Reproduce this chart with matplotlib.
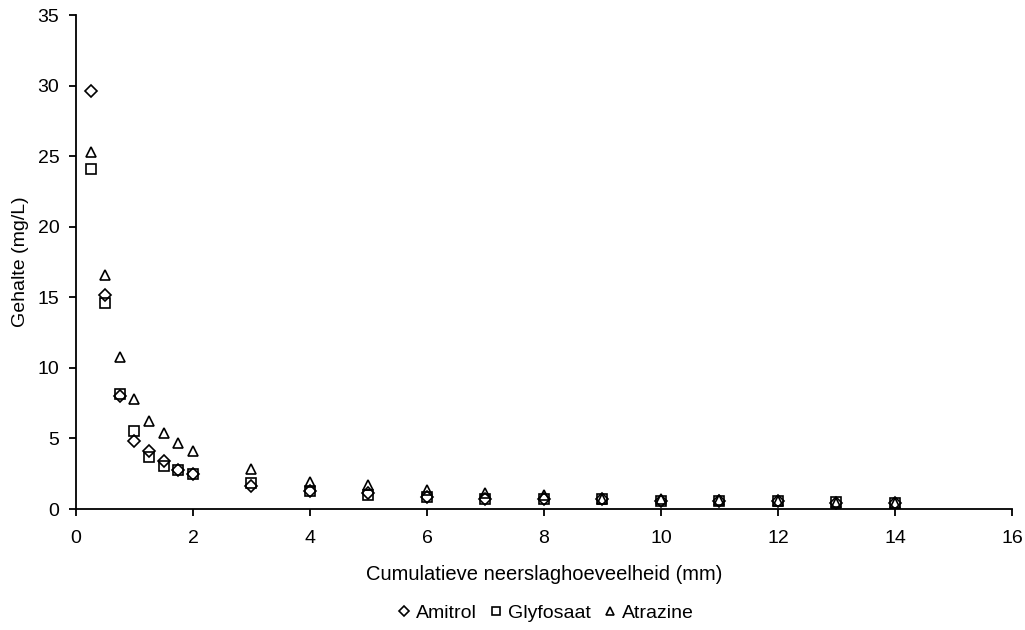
import matplotlib
matplotlib.use("Agg")
import matplotlib.pyplot as plt

plt.rcParams['font.family'] = ['Liberation Sans', 'DejaVu Sans']

# cumulative rainfall (mm)
neerslag = [0.25, 0.5, 0.75, 1.0, 1.25, 1.5, 1.75, 2, 3, 4, 5, 6, 7, 8, 9, 10, 11, 12, 13, 14]

# concentration (mg/L)
amitrol = [29.6, 15.2, 8.0, 4.85, 4.08, 3.37, 2.75, 2.45, 1.64, 1.28, 1.15, 0.86, 0.7, 0.7, 0.68, 0.6, 0.6, 0.55, 0.4, 0.4]
glyfosaat = [24.1, 14.6, 8.17, 5.5, 3.68, 3.05, 2.8, 2.45, 1.85, 1.3, 0.96, 0.86, 0.72, 0.7, 0.68, 0.6, 0.6, 0.6, 0.5, 0.4]
atrazine = [25.3, 16.6, 10.75, 7.8, 6.25, 5.37, 4.66, 4.1, 2.86, 1.9, 1.67, 1.38, 1.13, 0.96, 0.72, 0.68, 0.62, 0.6, 0.42, 0.45]

fig = plt.figure(figsize=(10.25, 6.3), dpi=100)
ax = fig.add_axes([0.0741, 0.192, 0.9132, 0.784])

kw = dict(linestyle='none', markerfacecolor='none', markeredgecolor='black', markeredgewidth=1.2)
ax.plot(neerslag, amitrol, marker='D', markersize=6.3, label='Amitrol', **kw)
ax.plot(neerslag, glyfosaat, marker='s', markersize=6.5, label='Glyfosaat', **kw)
ax.plot(neerslag, atrazine, marker='^', markersize=7.5, label='Atrazine', **kw)

ax.set_xlim(0, 16)
ax.set_ylim(0, 35)
ax.set_xticks(range(0, 17, 2))
ax.set_yticks(range(0, 36, 5))
ax.spines['top'].set_visible(False)
ax.spines['right'].set_visible(False)
ax.spines['left'].set_linewidth(1.3)
ax.spines['bottom'].set_linewidth(1.3)
ax.tick_params(direction='out', length=5, width=1.3, labelsize=14)
ax.tick_params(axis='x', pad=10)
ax.tick_params(axis='y', pad=7)

ax.set_xlabel('Cumulatieve neerslaghoeveelheid (mm)', fontsize=14.5, va='center')
ax.xaxis.set_label_coords(0.5, -0.1316)
ax.set_ylabel('Gehalte (mg/L)', fontsize=14, va='center')
ax.yaxis.set_label_coords(-0.0588, 0.5)

ax.legend(loc='center', bbox_to_anchor=(0.5, -0.2105), ncol=3, frameon=False,
          fontsize=14, handletextpad=0.1, columnspacing=0.5, handlelength=1.0,
          markerscale=0.8, borderaxespad=0)

fig.savefig('out.png', dpi=100)
